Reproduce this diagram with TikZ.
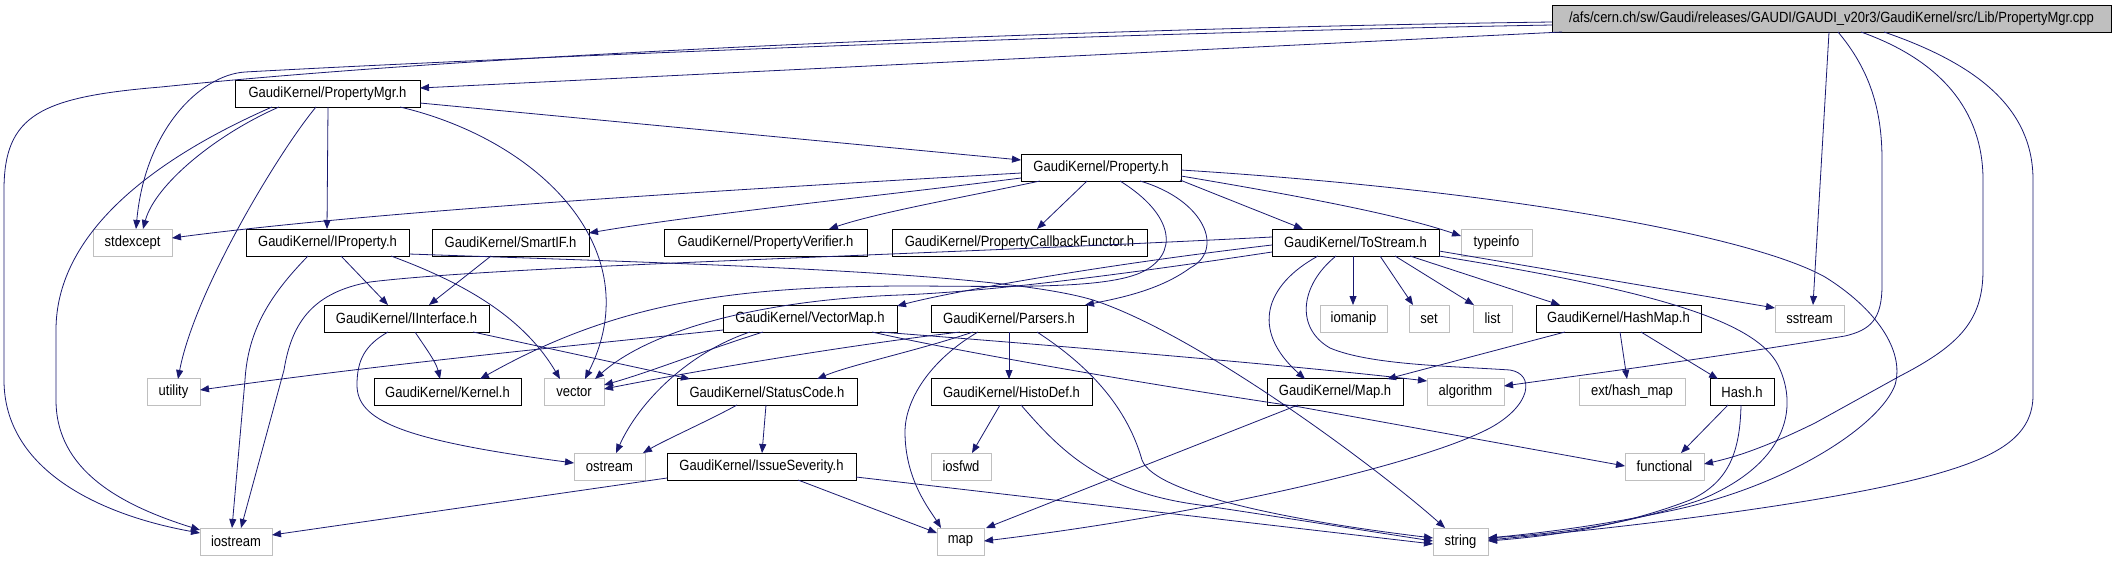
\documentclass[tikz,border=0pt]{standalone}
\usepackage{fontspec}
\setmainfont{Liberation Sans}[FakeStretch=0.88]
\usetikzlibrary{arrows.meta,calc}
\definecolor{edgeblue}{HTML}{191970}
\definecolor{sysgray}{HTML}{BFBFBF}
\begin{document}
\begin{tikzpicture}[x=1pt,y=-1pt,
  hdr/.style={draw=black,fill=white,line width=0.8pt,inner sep=0pt,minimum height=27pt,font=\fontsize{14.8}{16}\selectfont},
  sys/.style={hdr,draw=sysgray},
  rootbox/.style={hdr,fill=sysgray},
  dep/.style={draw=edgeblue,line width=0.8pt,-{Triangle[length=9pt,width=7pt]}}]
\fill[white] (0,0) rectangle (2116,560);
\useasboundingbox (0,0) rectangle (2116,560);
% nodes
\node[rootbox,minimum width=559pt] (root) at (1831.5,18.5) {/afs/cern.ch/sw/Gaudi/releases/GAUDI/GAUDI\_v20r3/GaudiKernel/src/Lib/PropertyMgr.cpp};
\node[hdr,minimum width=185pt] (pmgr) at (327.5,93.5) {GaudiKernel/PropertyMgr.h};
\node[hdr,minimum width=160pt] (prop) at (1101,168) {GaudiKernel/Property.h};
\node[sys,minimum width=79pt] (stdexcept) at (132.5,242.5) {stdexcept};
\node[hdr,minimum width=163pt] (iprop) at (327.5,242.5) {GaudiKernel/IProperty.h};
\node[hdr,minimum width=157pt] (smartif) at (510.5,242.5) {GaudiKernel/SmartIF.h};
\node[hdr,minimum width=203pt] (pverif) at (765.5,242.5) {GaudiKernel/PropertyVerifier.h};
\node[hdr,minimum width=255pt] (pcb) at (1019.5,242.5) {GaudiKernel/PropertyCallbackFunctor.h};
\node[hdr,minimum width=167pt] (tostream) at (1355.5,242.5) {GaudiKernel/ToStream.h};
\node[sys,minimum width=71pt] (typeinfo) at (1496.5,242.5) {typeinfo};
\node[hdr,minimum width=165pt] (iinterface) at (406.5,318.5) {GaudiKernel/IInterface.h};
\node[hdr,minimum width=174pt] (vectormap) at (810,318.5) {GaudiKernel/VectorMap.h};
\node[hdr,minimum width=156pt] (parsers) at (1009,318.5) {GaudiKernel/Parsers.h};
\node[sys,minimum width=67pt] (iomanip) at (1353.5,318.5) {iomanip};
\node[sys,minimum width=40pt] (set) at (1429,318.5) {set};
\node[sys,minimum width=39pt] (list) at (1492.5,318.5) {list};
\node[hdr,minimum width=165pt] (hashmap) at (1618.5,318.5) {GaudiKernel/HashMap.h};
\node[sys,minimum width=69pt] (sstream) at (1809.5,318.5) {sstream};
\node[sys,minimum width=53pt] (utility) at (173.5,392) {utility};
\node[hdr,minimum width=147pt] (kernel) at (447.5,392) {GaudiKernel/Kernel.h};
\node[sys,minimum width=60pt] (vector) at (574,392) {vector};
\node[hdr,minimum width=180pt] (statuscode) at (767,392) {GaudiKernel/StatusCode.h};
\node[hdr,minimum width=161pt] (histodef) at (1011.5,392) {GaudiKernel/HistoDef.h};
\node[hdr,minimum width=136pt] (maph) at (1335,392) {GaudiKernel/Map.h};
\node[sys,minimum width=77pt] (algorithm) at (1465.5,392) {algorithm};
\node[sys,minimum width=106pt] (hashext) at (1632,392) {ext/hash\_map};
\node[hdr,minimum width=64pt] (hash) at (1742,392) {Hash.h};
\node[sys,minimum width=71pt] (ostream) at (609.5,466.5) {ostream};
\node[hdr,minimum width=189pt] (issue) at (761.5,466.5) {GaudiKernel/IssueSeverity.h};
\node[sys,minimum width=60pt] (iosfwd) at (961,466.5) {iosfwd};
\node[sys,minimum width=79pt] (functional) at (1664.5,466.5) {functional};
\node[sys,minimum width=72pt] (iostream) at (236,541.5) {iostream};
\node[sys,minimum width=47pt] (map) at (960.5,541.5) {map};
\node[sys,minimum width=55pt] (string) at (1460.5,541.5) {string};
% root edges
\draw[dep] ($(root)+(-269.5,13.5)$) -- ($(pmgr)+(92.5,-5.5)$);
\draw[dep] ($(root)+(-279.5,6.5)$) .. controls (1100,33) and (500,58) .. (245,72) .. controls (200,75) and (145,130) .. ($(stdexcept)+(3.5,-13.5)$);
\draw[dep] ($(root)+(-279.5,3.5)$) .. controls (1100,28) and (500,52) .. (161,87) .. controls (40,97) and (4,115) .. (4,190) -- (4,380) .. controls (4,470) and (100,515) .. ($(iostream)+(-36,-8.5)$);
\draw[dep] ($(root)+(-2.5,13.5)$) -- ($(sstream)+(3.5,-13.5)$);
\draw[dep] ($(root)+(6.5,13.5)$) .. controls (1870,70) and (1882,110) .. (1882,160) -- (1882,285) .. controls (1882,320) and (1870,330) .. (1845,336) .. controls (1700,360) and (1560,378) .. ($(algorithm)+(38.5,-6)$);
\draw[dep] ($(root)+(29.5,13.5)$) .. controls (1940,60) and (1983,110) .. (1983,180) -- (1983,270) .. controls (1983,320) and (1960,345) .. (1900,376) -- (1815,423) .. controls (1770,445) and (1740,456) .. ($(functional)+(39.5,-2.5)$);
\draw[dep] ($(root)+(52.5,13.5)$) .. controls (1980,65) and (2033,110) .. (2033,180) -- (2033,395) .. controls (2033,435) and (2000,455) .. (1943,472) .. controls (1850,500) and (1650,525) .. ($(string)+(27.5,-1.5)$);
% PropertyMgr.h
\draw[dep] ($(pmgr)+(92.5,9.5)$) -- ($(prop)+(-80,-8)$);
\draw[dep] ($(pmgr)+(0.5,13.5)$) -- ($(iprop)+(-0.5,-13.5)$);
\draw[dep] ($(pmgr)+(-48.5,13.5)$) .. controls (215,135) and (155,185) .. ($(stdexcept)+(10.5,-13.5)$);
\draw[dep] ($(pmgr)+(-55.5,13.5)$) .. controls (140,165) and (56,240) .. (56,330) -- (56,400) .. controls (56,470) and (120,505) .. ($(iostream)+(-36,-11.5)$);
\draw[dep] ($(pmgr)+(-11.5,13.5)$) .. controls (280,150) and (195,290) .. ($(utility)+(4.5,-13)$);
\draw[dep] ($(pmgr)+(72.5,13.5)$) .. controls (540,140) and (650,250) .. ($(vector)+(11,-13)$);
% Property.h
\draw[dep] ($(prop)+(-80,5)$) .. controls (800,186) and (400,208) .. ($(stdexcept)+(39.5,-4.5)$);
\draw[dep] ($(prop)+(-80,10)$) .. controls (880,196) and (700,214) .. ($(smartif)+(78.5,-9.5)$);
\draw[dep] ($(prop)+(-61,13)$) .. controls (960,198) and (880,212) .. ($(pverif)+(63.5,-13.5)$);
\draw[dep] ($(prop)+(-14,13)$) -- ($(pcb)+(17.5,-13.5)$);
\draw[dep] ($(prop)+(79,12)$) -- ($(tostream)+(-52.5,-13.5)$);
\draw[dep] ($(prop)+(80,8)$) .. controls (1300,196) and (1400,215) .. ($(typeinfo)+(-35.5,-6.5)$);
\draw[dep] ($(prop)+(80,2)$) .. controls (1500,190) and (1750,235) .. (1825,277) .. controls (1875,308) and (1905,350) .. (1895,385) .. controls (1880,425) and (1790,485) .. (1674,510) .. controls (1600,526) and (1540,533) .. ($(string)+(27.5,-3.5)$);
\draw[dep] ($(prop)+(39,13)$) .. controls (1205,200) and (1225,250) .. (1190,268) .. controls (1160,290) and (1120,298) .. ($(parsers)+(76,-13.5)$);
\draw[dep] ($(prop)+(19,13)$) .. controls (1175,215) and (1180,255) .. (1140,273) .. controls (1100,290) and (1000,286) .. (900,286) .. controls (740,287) and (620,300) .. ($(kernel)+(32.5,-13)$);
% ToStream.h
\draw[dep] ($(tostream)+(-83.5,-5.5)$) .. controls (900,256) and (500,266) .. (370,282) .. controls (315,292) and (292,320) .. (284,370) -- ($(iostream)+(5,-13.5)$);
\draw[dep] ($(tostream)+(-83.5,2.5)$) .. controls (1100,265) and (950,292) .. ($(vectormap)+(87,-12.5)$);
\draw[dep] ($(tostream)+(-83.5,9.5)$) .. controls (1100,278) and (980,292) .. (900,295) .. controls (760,300) and (650,330) .. ($(vector)+(21,-13)$);
\draw[dep] ($(tostream)+(-2.5,13.5)$) -- ($(iomanip)+(-0.5,-13.5)$);
\draw[dep] ($(tostream)+(24.5,13.5)$) -- ($(set)+(-16,-13.5)$);
\draw[dep] ($(tostream)+(39.5,13.5)$) -- ($(list)+(-18.5,-13.5)$);
\draw[dep] ($(tostream)+(54.5,13.5)$) -- ($(hashmap)+(-58.5,-13.5)$);
\draw[dep] ($(tostream)+(83.5,8.5)$) -- ($(sstream)+(-34.5,-10.5)$);
\draw[dep] ($(tostream)+(83.5,13.5)$) .. controls (1650,290) and (1755,320) .. (1778,365) .. controls (1800,410) and (1785,465) .. (1700,500) .. controls (1620,527) and (1550,534) .. ($(string)+(27.5,-3.5)$);
\draw[dep] ($(tostream)+(-37.5,13.5)$) .. controls (1265,285) and (1250,330) .. ($(maph)+(-30,-13)$);
\draw[dep] ($(tostream)+(-19.5,13.5)$) .. controls (1300,285) and (1295,328) .. (1330,348) .. controls (1370,365) and (1450,366) .. (1510,370) .. controls (1535,374) and (1532,405) .. (1490,428) .. controls (1420,465) and (1200,515) .. ($(map)+(23.5,-0.5)$);
% IProperty.h
\draw[dep] ($(iprop)+(13.5,13.5)$) -- ($(iinterface)+(-18.5,-13.5)$);
\draw[dep] ($(iprop)+(-19.5,13.5)$) .. controls (270,295) and (248,330) .. (245,380) -- ($(iostream)+(-4,-13.5)$);
\draw[dep] ($(iprop)+(63.5,13.5)$) .. controls (470,285) and (525,320) .. ($(vector)+(-14,-13)$);
\draw[dep] ($(iprop)+(81.5,11.5)$) .. controls (700,264) and (1000,272) .. (1093,300) .. controls (1200,335) and (1380,470) .. ($(string)+(-15.5,-13.5)$);
% SmartIF.h
\draw[dep] ($(smartif)+(-19.5,13.5)$) -- ($(iinterface)+(22.5,-13.5)$);
% IInterface.h
\draw[dep] ($(iinterface)+(8.5,13.5)$) .. controls (427,350) and (436,362) .. ($(kernel)+(-7.5,-13)$);
\draw[dep] ($(iinterface)+(66.5,13.5)$) -- ($(statuscode)+(-77,-13)$);
\draw[dep] ($(iinterface)+(-18.5,13.5)$) .. controls (365,345) and (357,360) .. (357,385) .. controls (357,420) and (400,440) .. ($(ostream)+(-35.5,-3.5)$);
% VectorMap.h
\draw[dep] ($(vectormap)+(-87,11.5)$) .. controls (600,343) and (400,362) .. ($(utility)+(26.5,-2)$);
\draw[dep] ($(vectormap)+(-47,13.5)$) .. controls (700,352) and (650,372) .. ($(vector)+(30,-7)$);
\draw[dep] ($(vectormap)+(-60,13.5)$) .. controls (690,352) and (640,400) .. ($(ostream)+(6.5,-13.5)$);
\draw[dep] ($(vectormap)+(70,13.5)$) .. controls (1050,345) and (1300,366) .. ($(algorithm)+(-38.5,-11)$);
\draw[dep] ($(vectormap)+(62,13.5)$) .. controls (950,350) and (1150,385) .. (1300,407) -- ($(functional)+(-39.5,-0.5)$);
% Parsers.h
\draw[dep] ($(parsers)+(-49,13.5)$) .. controls (850,345) and (700,370) .. ($(vector)+(30,-3)$);
\draw[dep] ($(parsers)+(-36,13.5)$) .. controls (920,350) and (850,365) .. ($(statuscode)+(50,-13)$);
\draw[dep] ($(parsers)+(0,13.5)$) -- ($(histodef)+(-2.5,-13)$);
\draw[dep] ($(parsers)+(-31,13.5)$) .. controls (930,360) and (905,400) .. (905,432) .. controls (905,480) and (930,510) .. ($(map)+(-19.5,-13.5)$);
\draw[dep] ($(parsers)+(28,13.5)$) .. controls (1080,360) and (1125,400) .. (1142,460) .. controls (1155,495) and (1300,522) .. ($(string)+(-27.5,-3.5)$);
% HistoDef.h
\draw[dep] ($(histodef)+(-11.5,13)$) -- ($(iosfwd)+(11,-13.5)$);
\draw[dep] ($(histodef)+(9.5,13)$) .. controls (1060,450) and (1100,492) .. (1200,505) .. controls (1300,520) and (1380,533) .. ($(string)+(-27.5,-0.5)$);
% StatusCode.h
\draw[dep] ($(statuscode)+(-1,13)$) -- ($(issue)+(0.5,-13.5)$);
\draw[dep] ($(statuscode)+(-30,13)$) .. controls (710,420) and (665,440) .. ($(ostream)+(33.5,-13.5)$);
% IssueSeverity.h
\draw[dep] ($(issue)+(-94.5,11.5)$) -- ($(iostream)+(36,-6.5)$);
\draw[dep] ($(issue)+(36.5,13.5)$) -- ($(map)+(-23.5,-8.5)$);
\draw[dep] ($(issue)+(94.5,10.5)$) -- ($(string)+(-27.5,2.5)$);
% Map.h
\draw[dep] ($(maph)+(-37,13)$) -- ($(map)+(25.5,-13.5)$);
% HashMap.h
\draw[dep] ($(hashmap)+(-53.5,13.5)$) -- ($(maph)+(52,-13)$);
\draw[dep] ($(hashmap)+(1.5,13.5)$) -- ($(hashext)+(-5,-13)$);
\draw[dep] ($(hashmap)+(22.5,13.5)$) -- ($(hash)+(-24,-13)$);
% Hash.h
\draw[dep] ($(hash)+(-14,13)$) -- ($(functional)+(16.5,-13.5)$);
\draw[dep] ($(hash)+(-1,13)$) .. controls (1740,450) and (1730,482) .. (1690,500) .. controls (1620,527) and (1550,536) .. ($(string)+(27.5,-0.5)$);
\end{tikzpicture}
\end{document}
